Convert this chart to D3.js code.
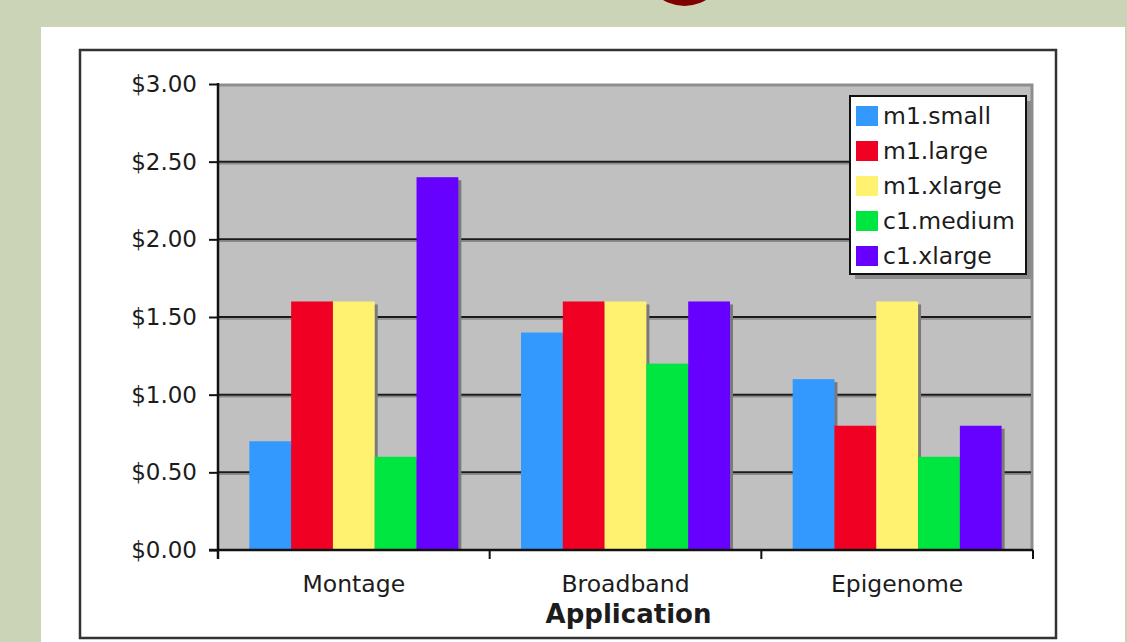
<html>

<head>
  <script src="https://d3js.org/d3.v7.min.js"></script>
  <style>
    body { margin: 0; background: #cbd4b7; }
    text { font-family: "DejaVu Sans", Verdana, sans-serif; fill: #1c1c1c; }
  </style>
</head>

<body>
  <svg id="chart" width="1127" height="642"></svg>

  <script>
    // data
    const apps = ["Montage", "Broadband", "Epigenome"];
    const instances = ["m1.small", "m1.large", "m1.xlarge", "c1.medium", "c1.xlarge"];
    const colors = ["#3399ff", "#f00022", "#fff270", "#00e640", "#6600ff"];
    const cost = [
      [0.70, 1.60, 1.60, 0.60, 2.40],   // Montage
      [1.40, 1.60, 1.60, 1.20, 1.60],   // Broadband
      [1.10, 0.80, 1.60, 0.60, 0.80]    // Epigenome
    ];
    const yTicks = [0, 0.5, 1, 1.5, 2, 2.5, 3];

    const svg = d3.select("#chart");

    // slide decoration: red dot at top and white panel
    svg.append("rect").attr("width", 1127).attr("height", 642).attr("fill", "#cbd4b7");
    svg.append("circle").attr("cx", 684.5).attr("cy", -35.5).attr("r", 41.5).attr("fill", "#800000");
    svg.append("rect").attr("x", 41).attr("y", 27).attr("width", 1084).attr("height", 620).attr("fill", "#fff");

    // chart frame
    svg.append("rect").attr("x", 80).attr("y", 50).attr("width", 976).attr("height", 588)
      .attr("fill", "none").attr("stroke", "#333").attr("stroke-width", 2.5);

    const plot = { left: 218, right: 1033, top: 84, bottom: 550 };

    const x = d3.scaleBand().domain(apps).range([plot.left, plot.right]).paddingInner(0).paddingOuter(0);
    const xs = d3.scaleBand().domain(instances).range([0, x.bandwidth()]).paddingInner(0).paddingOuter(0.75);
    const y = d3.scaleLinear().domain([0, 3]).range([plot.bottom, plot.top]);

    // plot area
    svg.append("rect").attr("x", plot.left).attr("y", plot.top)
      .attr("width", plot.right - plot.left).attr("height", plot.bottom - plot.top)
      .attr("fill", "#c0c0c0");
    svg.append("path")
      .attr("d", `M${plot.left},${plot.top + 1}H${plot.right - 1}V${plot.bottom}`)
      .attr("fill", "none").attr("stroke", "#8e8e8e").attr("stroke-width", 3);

    // gridlines with a soft shadow
    const grid = yTicks.filter(d => d > 0 && d < 3);
    svg.append("g").selectAll("line").data(grid).join("line")
      .attr("x1", plot.left).attr("x2", plot.right - 2)
      .attr("y1", d => y(d) + 2).attr("y2", d => y(d) + 2)
      .attr("stroke", "#8a8a8a").attr("stroke-width", 1.5);
    svg.append("g").selectAll("line").data(grid).join("line")
      .attr("x1", plot.left).attr("x2", plot.right - 2)
      .attr("y1", d => y(d)).attr("y2", d => y(d))
      .attr("stroke", "#1a1a1a").attr("stroke-width", 2);

    // bars
    const rows = [];
    apps.forEach((a, i) => instances.forEach((s, j) => rows.push({ app: a, inst: s, v: cost[i][j], c: colors[j] })));

    const bars = svg.append("g");
    bars.selectAll("rect.shadow").data(rows).join("rect")
      .attr("class", "shadow")
      .attr("x", d => x(d.app) + xs(d.inst) + 3)
      .attr("y", d => y(d.v) + 3)
      .attr("width", xs.bandwidth())
      .attr("height", d => y(0) - y(d.v) - 3)
      .attr("fill", "#7a7a7a");
    bars.selectAll("rect.bar").data(rows).join("rect")
      .attr("class", "bar")
      .attr("x", d => x(d.app) + xs(d.inst))
      .attr("y", d => y(d.v))
      .attr("width", xs.bandwidth())
      .attr("height", d => y(0) - y(d.v))
      .attr("fill", d => d.c);

    // y axis
    const yAxis = d3.axisLeft(y).tickValues(yTicks).tickFormat(d3.format("$.2f"))
      .tickSize(9).tickPadding(12);
    const ya = svg.append("g").attr("transform", `translate(${plot.left},0)`).call(yAxis);
    ya.select(".domain").remove();
    ya.selectAll("line").attr("stroke", "#111").attr("stroke-width", 2);
    ya.selectAll("text").style("font-size", "23px").style("font-family", "DejaVu Sans").attr("fill", "#1c1c1c");
    svg.append("line").attr("x1", plot.left).attr("x2", plot.left)
      .attr("y1", plot.top - 1).attr("y2", plot.bottom + 9)
      .attr("stroke", "#111").attr("stroke-width", 2.5);

    // x axis
    svg.append("line").attr("x1", plot.left - 9).attr("x2", plot.right)
      .attr("y1", plot.bottom).attr("y2", plot.bottom)
      .attr("stroke", "#111").attr("stroke-width", 2.5);
    const bounds = apps.map(a => x(a)).concat([plot.right]);
    svg.append("g").selectAll("line").data(bounds).join("line")
      .attr("x1", d => d).attr("x2", d => d)
      .attr("y1", plot.bottom).attr("y2", plot.bottom + 9)
      .attr("stroke", "#111").attr("stroke-width", 2);
    svg.append("g").selectAll("text").data(apps).join("text")
      .attr("x", d => x(d) + x.bandwidth() / 2)
      .attr("y", 592)
      .attr("text-anchor", "middle")
      .style("font-size", "23.5px")
      .text(d => d);
    svg.append("text")
      .attr("x", x("Broadband") + x.bandwidth() / 2 + 3)
      .attr("y", 623)
      .attr("text-anchor", "middle")
      .style("font-size", "26px")
      .style("font-weight", "bold")
      .text("Application");

    // legend
    const legend = svg.append("g").attr("transform", "translate(850,96)");
    legend.append("rect").attr("x", 5).attr("y", 5).attr("width", 176).attr("height", 178).attr("fill", "#8a8a8a");
    legend.append("rect").attr("width", 176).attr("height", 178)
      .attr("fill", "#fff").attr("stroke", "#111").attr("stroke-width", 2);
    const items = legend.selectAll("g.item").data(instances).join("g")
      .attr("class", "item")
      .attr("transform", (d, i) => `translate(0,${20 + i * 35})`);
    items.append("rect").attr("x", 6).attr("y", -10).attr("width", 22).attr("height", 20)
      .attr("fill", (d, i) => colors[i]);
    items.append("text").attr("x", 33).attr("y", 8)
      .style("font-size", "23.5px")
      .text(d => d);
  </script>
</body>

</html>
